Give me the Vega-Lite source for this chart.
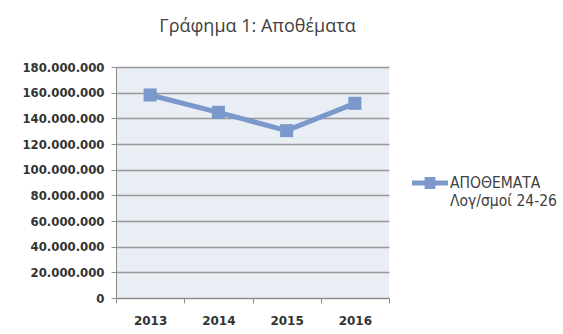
{
  "$schema": "https://vega.github.io/schema/vega-lite/v6.json",
  "width": 273,
  "height": 231,
  "autosize": {"type": "none"},
  "padding": {"left": 116, "top": 67, "right": 174, "bottom": 36},
  "background": "white",
  "title": {"text": "Γράφημα 1: Αποθέματα", "fontSize": 18, "fontWeight": "normal", "color": "#404040", "font": "Open Sans", "offset": 26, "dx": 5},
  "data": {"values": [
    {"year": "2013", "value": 158200000, "series": "ΑΠΟΘΕΜΑΤΑ|Λογ/σμοί 24-26"},
    {"year": "2014", "value": 144700000, "series": "ΑΠΟΘΕΜΑΤΑ|Λογ/σμοί 24-26"},
    {"year": "2015", "value": 130400000, "series": "ΑΠΟΘΕΜΑΤΑ|Λογ/σμοί 24-26"},
    {"year": "2016", "value": 151700000, "series": "ΑΠΟΘΕΜΑΤΑ|Λογ/σμοί 24-26"}
  ]},
  "encoding": {
    "x": {"field": "year", "type": "ordinal", "scale": {"type": "band", "paddingInner": 0, "paddingOuter": 0},
      "axis": {"title": null, "labelAngle": 0, "tickBand": "extent", "domainColor": "#8c8c8c", "tickColor": "#8c8c8c", "tickSize": 5, "labelFontWeight": "bold", "labelFontSize": 12, "labelColor": "#333333", "labelFont": "DejaVu Sans", "labelPadding": 12, "grid": false}},
    "y": {"field": "value", "type": "quantitative", "scale": {"domain": [0, 180000000]},
      "axis": {"title": null, "values": [0, 20000000, 40000000, 60000000, 80000000, 100000000, 120000000, 140000000, 160000000, 180000000], "format": ",d", "domainColor": "#8c8c8c", "tickColor": "#8c8c8c", "tickSize": 5, "gridColor": "#999999", "gridWidth": 1.3, "labelFontWeight": "bold", "labelFontSize": 11.7, "labelColor": "#333333", "labelFont": "DejaVu Sans", "labelPadding": 7}},
    "color": {"field": "series", "type": "nominal", "scale": {"range": ["#7b98cb"]},
      "legend": {"title": null, "orient": "none", "legendX": 296, "legendY": 98, "labelExpr": "split(datum.value, '|')", "labelFontSize": 15.5, "labelColor": "#404040", "labelFont": "DejaVu Sans Condensed", "symbolType": "M-1,-0.14H1V0.14H-1Z M-0.3,-0.33H0.3V0.33H-0.3Z", "symbolSize": 1296, "symbolFillColor": "#7b98cb", "symbolStrokeWidth": 0, "labelOffset": 2, "labelBaseline": "middle",
        "encode": {"symbols": {"update": {"fill": {"value": "#7b98cb"}, "strokeWidth": {"value": 0}}}}}}
  },
  "layer": [
    {"mark": {"type": "line", "strokeWidth": 5, "opacity": 1}},
    {"mark": {"type": "point", "shape": "square", "filled": true, "size": 170, "opacity": 1}}
  ],
  "config": {
    "view": {"fill": "#e9edf4", "stroke": null},
    "locale": {"number": {"decimal": ",", "thousands": ".", "grouping": [3], "currency": ["", " €"]}}
  }
}
